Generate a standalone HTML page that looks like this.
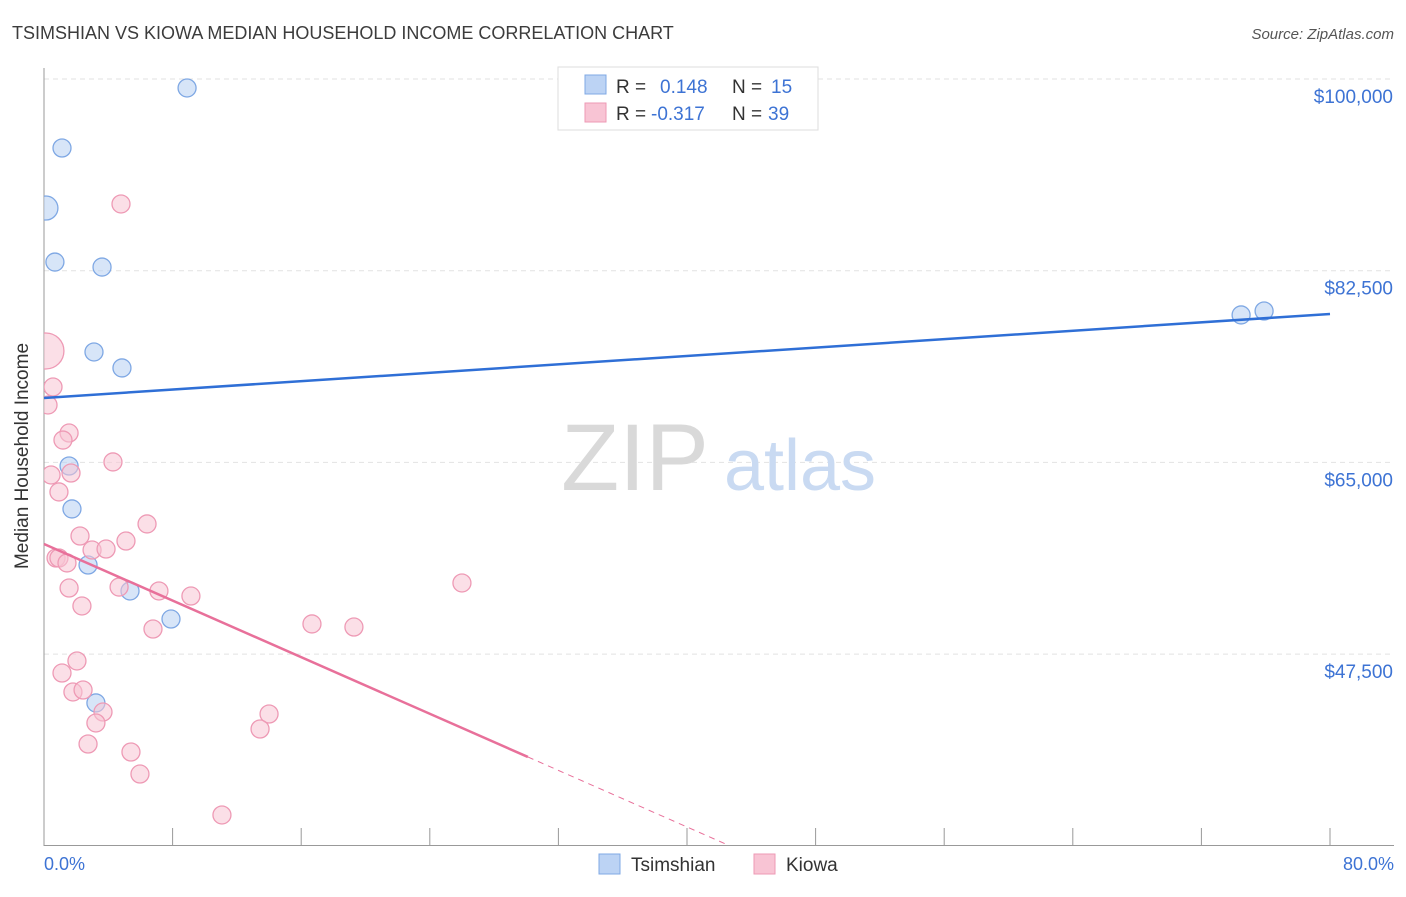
<!DOCTYPE html>
<html><head><meta charset="utf-8"><style>
body{margin:0;background:#fff;font-family:"Liberation Sans",sans-serif;}
svg text{font-family:"Liberation Sans",sans-serif;}
</style></head><body>
<svg width="1406" height="892" viewBox="0 0 1406 892">
<defs><clipPath id="pc"><rect x="44" y="60" width="1360" height="786"/></clipPath></defs>
<text x="12" y="39" font-size="18" fill="#3c3c3c">TSIMSHIAN VS KIOWA MEDIAN HOUSEHOLD INCOME CORRELATION CHART</text>
<text x="1394" y="39" font-size="15" fill="#555" font-style="italic" text-anchor="end">Source: ZipAtlas.com</text>
<g id="grid"></g>
<line x1="44" y1="68" x2="44" y2="846" stroke="#999" stroke-width="1"/>
<line x1="44" y1="845.5" x2="1394" y2="845.5" stroke="#999" stroke-width="1"/>
<text x="635" y="490" font-size="95" fill="#d9d9d9" font-family="Liberation Serif" text-anchor="middle">ZIP</text>
<text x="800" y="490" font-size="72" fill="#c9daf2" text-anchor="middle">atlas</text>
<g id="xt"></g><g id="yt"></g>
<g id="marks" clip-path="url(#pc)"></g>
<g id="lines"></g>
<text x="28" y="456" font-size="19" fill="#333" text-anchor="middle" transform="rotate(-90 28 456)">Median Household Income</text>
<text x="44" y="870" font-size="18" fill="#3d73d4">0.0%</text>
<text x="1394" y="870" font-size="18" fill="#3d73d4" text-anchor="end">80.0%</text>
<g>
<rect x="558" y="67" width="260" height="63" fill="#fff" stroke="#ddd"/>
<rect x="585" y="75" width="21" height="19" fill="#bcd3f4" stroke="#7fa8e4"/>
<rect x="585" y="103" width="21" height="19" fill="#f8c4d4" stroke="#ee9ab5"/>
<text x="616" y="93" font-size="19" fill="#333">R = </text><text x="660" y="93" font-size="19" fill="#3d73d4">0.148</text>
<text x="732" y="93" font-size="19" fill="#333">N = </text><text x="771" y="93" font-size="19" fill="#3d73d4">15</text>
<text x="616" y="120" font-size="19" fill="#333">R = </text><text x="651" y="120" font-size="19" fill="#3d73d4">-0.317</text>
<text x="732" y="120" font-size="19" fill="#333">N = </text><text x="768" y="120" font-size="19" fill="#3d73d4">39</text>
</g>
<g>
<rect x="599" y="854" width="21" height="20" fill="#bcd3f4" stroke="#7fa8e4"/>
<text x="631" y="871" font-size="19" fill="#333">Tsimshian</text>
<rect x="754" y="854" width="21" height="20" fill="#f8c4d4" stroke="#ee9ab5"/>
<text x="786" y="871" font-size="19" fill="#333">Kiowa</text>
</g>
</svg>
<script>
const xTickPercents=[0,8,16,24,32,40,48,56,64,72,80];
const yTickValues=[100000,82500,65000,47500];
const yTickLabels=["$100,000","$82,500","$65,000","$47,500"];
const tsimX=[8.9,1.12,0.12,0.68,3.61,74.47,75.9,3.11,4.85,1.56,1.74,2.74,5.35,7.9,3.23];
const tsimY=[99180,93700,88220,83290,82830,78460,78820,75080,73620,64670,60750,55630,53260,50700,43040];
const tsimR=[9,9,12,9,9,9,9,9,9,9,9,9,9,9,9];
const kioX=[4.79,0.12,0.56,0.25,1.56,1.18,4.29,0.44,1.68,0.93,6.41,2.24,5.1,2.99,3.86,0.75,0.93,1.43,1.56,4.67,7.15,9.14,26.0,2.36,6.78,16.67,19.28,2.05,1.12,1.8,2.43,3.67,14.0,3.23,13.44,2.74,5.41,5.97,11.07];
const kioY=[88590,75170,71880,70240,67680,67040,65040,63850,64030,62300,59380,58280,57820,57000,57090,56270,56270,55820,53530,53620,53260,52800,53990,51890,49790,50250,49970,46870,45770,44040,44220,42210,42030,41210,40660,39290,38560,36550,32810];
const kioR=[9,18,9,9,9,9,9,9,9,9,9,9,9,9,9,9,9,9,9,9,9,9,9,9,9,9,9,9,9,9,9,9,9,9,9,9,9,9,9];
const tsimTrend=[70880,78550];
const kioTrend=[57550,5880];
const kioSolidEnd=30.1;
const X=p=>44+p/80*1286;
const Y=v=>845-(v-30070)/(100000-30070)*766;
const NS="http://www.w3.org/2000/svg";
function mk(t,a,parent){const e=document.createElementNS(NS,t);for(const k in a)e.setAttribute(k,a[k]);document.getElementById(parent).appendChild(e);return e;}
yTickValues.forEach((v,i)=>{
 const l=mk('line',{x1:44,x2:1394,y1:Y(v),y2:Y(v),stroke:'#e2e2e2','stroke-dasharray':'5,4'},'grid');
 
 
 const t=mk('text',{x:1393,y:Y(v)+24,'font-size':19,fill:'#3d73d4','text-anchor':'end'},'yt');
 t.textContent=yTickLabels[i];
 
 
});
xTickPercents.forEach(p=>{
 const l=mk('line',{x1:X(p),x2:X(p),y1:828,y2:846,stroke:'#999'},'xt');
 
 
});
tsimX.forEach((x,i)=>{
 const c=mk('circle',{cx:X(x),cy:Y(tsimY[i]),r:tsimR[i],fill:'#bcd3f4','fill-opacity':0.6,stroke:'#7fa8e4','stroke-width':1.3},'marks');
 
 
});
kioX.forEach((x,i)=>{
 const c=mk('circle',{cx:X(x),cy:Y(kioY[i]),r:kioR[i],fill:'#f8c4d4','fill-opacity':0.55,stroke:'#ee9ab5','stroke-width':1.3},'marks');
 
 
});
const tl=mk('line',{x1:X(0),y1:Y(tsimTrend[0]),x2:X(80),y2:Y(tsimTrend[1]),stroke:'#2f6fd6','stroke-width':2.5},'lines');


const ky=p=>kioTrend[0]+(kioTrend[1]-kioTrend[0])*p/80;
const kl=mk('line',{x1:X(0),y1:Y(ky(0)),x2:X(kioSolidEnd),y2:Y(ky(kioSolidEnd)),stroke:'#e8709a','stroke-width':2.5},'lines');


const endP=kioSolidEnd+(845-Y(ky(kioSolidEnd)))/(Y(ky(80))-Y(ky(0)))*80;
const kd=mk('line',{x1:X(kioSolidEnd),y1:Y(ky(kioSolidEnd)),x2:X(endP),y2:845,stroke:'#e8709a','stroke-width':1,'stroke-dasharray':'6,5'},'lines');


</script>
</body></html>
